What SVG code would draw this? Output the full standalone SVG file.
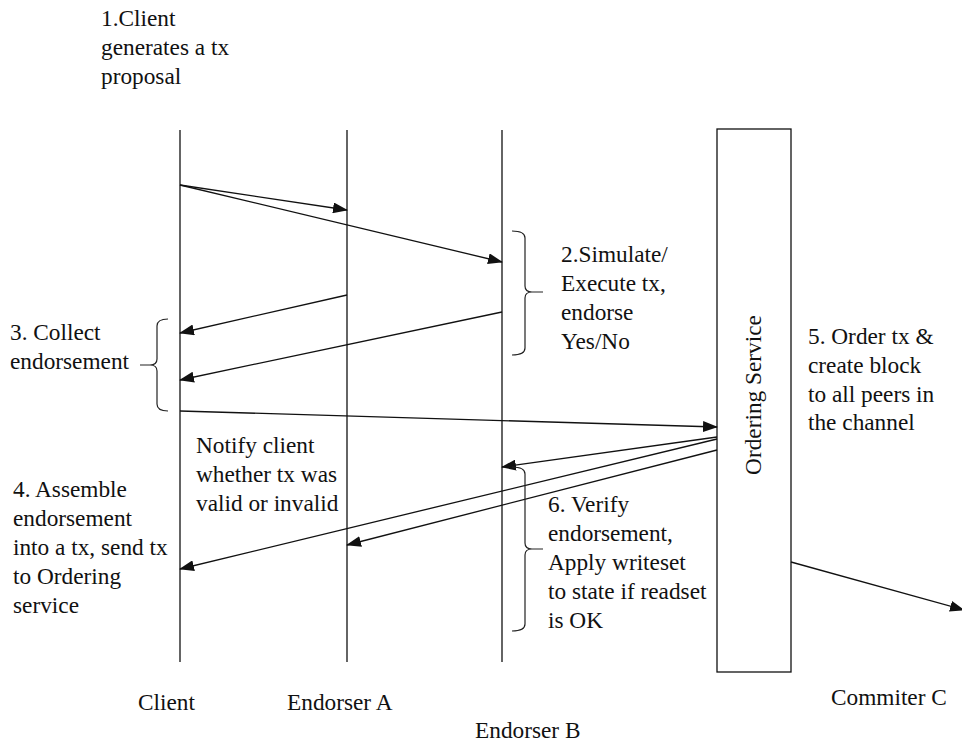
<svg xmlns="http://www.w3.org/2000/svg" width="962" height="742" viewBox="0 0 962 742">
  <style>
    .life { stroke: #111; stroke-width: 1.3; fill: none; }
    .msg { stroke: #111; stroke-width: 1.3; fill: none; marker-end: url(#arrow); }
    .brace { stroke: #222; stroke-width: 1.2; fill: none; }
    .lbl { font-family: 'Liberation Serif', Tinos, 'DejaVu Serif', serif; font-size: 23.3px; fill: #111; }
  </style>
  <defs>
    <marker id="arrow" markerUnits="userSpaceOnUse" markerWidth="15" markerHeight="11" refX="14" refY="5.5" orient="auto">
      <path d="M0,0 L15,5.5 L0,11 Z" fill="#111"/>
    </marker>
  </defs>
  <rect width="962" height="742" fill="#fff"/>

  <!-- lifelines -->
  <g id="client">
    <line class="life" x1="180" y1="130" x2="180" y2="662"/>
    <text class="lbl" x="138" y="710">Client</text>
  </g>
  <g id="endorser-a">
    <line class="life" x1="347" y1="130" x2="347" y2="662"/>
    <text class="lbl" x="287" y="710">Endorser A</text>
  </g>
  <g id="endorser-b">
    <line class="life" x1="502" y1="130" x2="502" y2="662"/>
    <text class="lbl" x="475" y="738">Endorser B</text>
  </g>
  <g id="ordering-service">
    <rect x="717" y="129" width="74" height="543" fill="#fff" stroke="#111" stroke-width="1.3"/>
    <text class="lbl" transform="translate(761,395) rotate(-90)" text-anchor="middle">Ordering Service</text>
  </g>
  <g id="committer-c">
    <text class="lbl" x="831" y="705">Commiter C</text>
  </g>

  <!-- messages -->
  <g id="connectors">
    <line class="msg" x1="180" y1="185" x2="347" y2="210"/>
    <line class="msg" x1="180" y1="185" x2="502" y2="262"/>
    <line class="msg" x1="347" y1="295" x2="180" y2="333"/>
    <line class="msg" x1="502" y1="312" x2="180" y2="380"/>
    <line class="msg" x1="180" y1="411" x2="717" y2="427"/>
    <line class="msg" x1="717" y1="437" x2="502" y2="467"/>
    <line class="msg" x1="717" y1="439" x2="180" y2="569"/>
    <line class="msg" x1="717" y1="450" x2="347" y2="545"/>
    <line class="msg" x1="791" y1="562" x2="964" y2="610"/>
  </g>

  <!-- braces -->
  <g id="brace-collect">
    <path class="brace" d="M168,319 Q157,319 157,326 L157,359 Q157,365 150,365 L140,365 M150,365 Q157,365 157,371 L157,404 Q157,411 168,411"/>
  </g>
  <g id="brace-simulate">
    <path class="brace" d="M512,231 Q525,231 525,238 L525,286 Q525,292 532,292 L543,292 M532,292 Q525,292 525,298 L525,348 Q525,355 512,355"/>
  </g>
  <g id="brace-verify">
    <path class="brace" d="M512,467 Q525,467 525,474 L525,543 Q525,549 532,549 L543,549 M532,549 Q525,549 525,555 L525,624 Q525,631 512,631"/>
  </g>

  <!-- step notes -->
  <g id="note-1" class="lbl">
    <text x="101" y="26">1.Client</text>
    <text x="101" y="55">generates a tx</text>
    <text x="101" y="84">proposal</text>
  </g>
  <g id="note-2" class="lbl">
    <text x="561" y="262">2.Simulate/</text>
    <text x="561" y="291">Execute tx,</text>
    <text x="561" y="320">endorse</text>
    <text x="561" y="349">Yes/No</text>
  </g>
  <g id="note-3" class="lbl">
    <text x="10" y="340">3. Collect</text>
    <text x="10" y="369">endorsement</text>
  </g>
  <g id="note-notify" class="lbl">
    <text x="196" y="453">Notify client</text>
    <text x="196" y="482">whether tx was</text>
    <text x="196" y="511">valid or invalid</text>
  </g>
  <g id="note-4" class="lbl">
    <text x="13" y="497">4. Assemble</text>
    <text x="13" y="526">endorsement</text>
    <text x="13" y="555">into a tx, send tx</text>
    <text x="13" y="584">to Ordering</text>
    <text x="13" y="613">service</text>
  </g>
  <g id="note-5" class="lbl">
    <text x="808" y="344">5. Order tx &amp;</text>
    <text x="808" y="373">create block</text>
    <text x="808" y="402">to all peers in</text>
    <text x="808" y="430">the channel</text>
  </g>
  <g id="note-6" class="lbl">
    <text x="548" y="512">6. Verify</text>
    <text x="548" y="541">endorsement,</text>
    <text x="548" y="570">Apply writeset</text>
    <text x="548" y="599">to state if readset</text>
    <text x="548" y="628">is OK</text>
  </g>
</svg>
